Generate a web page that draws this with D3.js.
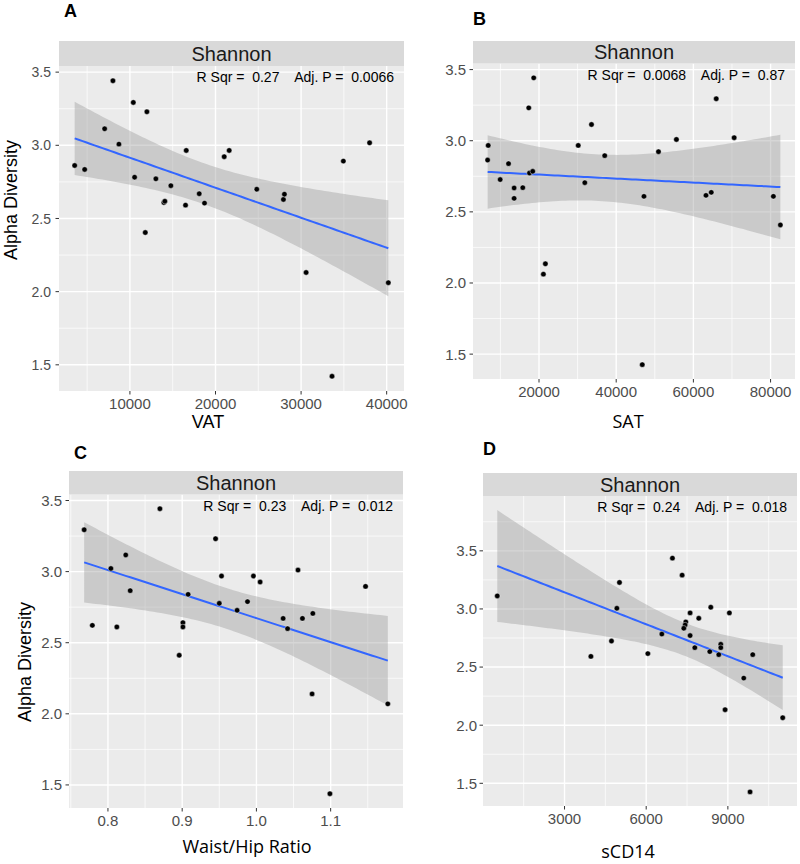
<!DOCTYPE html>
<html>
<head>
<meta charset="utf-8">
<script src="https://cdn.jsdelivr.net/npm/d3@7"></script>
<style>
body { margin:0; background:#fff; }
text { font-family: "Liberation Sans", Arial, sans-serif; }
</style>
</head>
<body>
<svg id="fig" width="800" height="864"></svg>
<script>
//Shannon alpha diversity vs VAT
var vatX = [3546,4713,8016,7047,8716,10397,11984,10548,13034,14785,13968,14085,16500,18717,16582,18099,21017,21600,24821,27937,28053,34939,38008,11797,30587,40193,33615]
var vatY = [2.862,2.835,3.441,3.113,3.008,3.293,3.229,2.782,2.771,2.724,2.609,2.618,2.591,2.605,2.965,2.669,2.922,2.965,2.700,2.630,2.666,2.892,3.017,2.404,2.131,2.061,1.422]

//vs SAT
var satX = [6842,6687,9938,12105,13550,13550,15795,17343,18633,17523,18375,30165,31868,33597,37028,47193,50960,55604,63267,64634,65924,70568,80733,82539,21651,21135,46755]
var satY = [2.967,2.864,2.727,2.839,2.668,2.595,2.670,3.231,3.442,2.773,2.785,2.967,2.705,3.114,2.895,2.609,2.923,3.009,2.616,2.637,3.295,3.021,2.609,2.408,2.135,2.062,1.426]

//vs waist/hip ratio
var whrX = [0.768,0.779,0.804,0.812,0.824,0.830,0.870,0.901,0.901,0.908,0.945,0.953,0.950,0.974,0.988,0.996,1.005,1.036,1.042,1.056,1.062,1.076,1.147,0.896,1.075,1.099,1.177]
var whrY = [3.294,2.622,3.022,2.611,3.117,2.866,3.442,2.641,2.611,2.840,3.231,2.969,2.777,2.728,2.789,2.969,2.927,2.671,2.599,3.011,2.671,2.706,2.896,2.412,2.140,1.438,2.070]

//vs sCD14
var cd14X = [530,5019,4923,4725,6575,6964,7320,7613,7455,7430,7382,7613,7932,8373,9056,7786,8740,3969,6061,8336,8666,8740,9914,9584,8898,11015,9815]
var cd14Y = [3.112,3.228,3.006,2.724,2.784,3.437,3.291,2.966,2.888,2.862,2.834,2.771,2.920,3.015,2.966,2.667,2.696,2.592,2.616,2.633,2.607,2.667,2.607,2.405,2.133,2.064,1.426]

//tick labels
var yTicks = [1.5,2.0,2.5,3.0,3.5]
var vatTicks = [10000,20000,30000,40000]
var satTicks = [20000,40000,60000,80000]
var whrTicks = [0.8,0.9,1.0,1.1]
var cd14Ticks = [3000,6000,9000]

//stats text
var statLabels = [
	"R Sqr =  0.27    Adj. P =  0.0066",
	"R Sqr =  0.0068    Adj. P =  0.87",
	"R Sqr =  0.23    Adj. P =  0.012",
	"R Sqr =  0.24    Adj. P =  0.018"
]

var svg = d3.select('#fig')

//panel boxes (pixels)
var panels = [
	{tag:'A', xs:vatX, ys:vatY, ticks:vatTicks, fmt:'d', title:'VAT', titleFont:'Liberation Sans',
		left:59, right:404, stripTop:41, top:66, bottom:391, tagX:64, tagY:17, titleX:208, titleY:428, ylab:{x:17, y:200}, yFont:14, yGap:8},
	{tag:'B', xs:satX, ys:satY, ticks:satTicks, fmt:'d', title:'SAT', titleFont:'Open Sans',
		left:473, right:795, stripTop:41, top:63.5, bottom:379, tagX:473, tagY:25, titleX:628, titleY:428, ylab:null, yFont:15, yGap:7},
	{tag:'C', xs:whrX, ys:whrY, ticks:whrTicks, fmt:'.1f', title:'Waist/Hip Ratio', titleFont:'Open Sans',
		left:69, right:403, stripTop:471, top:494.5, bottom:808, tagX:74, tagY:459, titleX:247, titleY:853, ylab:{x:31, y:662}, yFont:15, yGap:7},
	{tag:'D', xs:cd14X, ys:cd14Y, ticks:cd14Ticks, fmt:'d', title:'sCD14', titleFont:'Open Sans',
		left:483, right:797, stripTop:473, top:496, bottom:806, tagX:483, tagY:455, titleX:628, titleY:858, ylab:null, yFont:15, yGap:6}
]

//simple lm fit with 95% band (same as geom_smooth(method='lm'))
function linFit(xs, ys) {
	var n = xs.length
	var mx = d3.mean(xs), my = d3.mean(ys)
	var sxx = d3.sum(xs, function(x){ return (x-mx)*(x-mx) })
	var sxy = d3.sum(xs, function(x,i){ return (x-mx)*(ys[i]-my) })
	var b = sxy/sxx, a = my - b*mx
	var sse = d3.sum(xs, function(x,i){ var r = ys[i]-(a+b*x); return r*r })
	var s = Math.sqrt(sse/(n-2))
	var t = 2.0595 //qt(0.975, 25)
	var ext = d3.extent(xs)
	return d3.range(80).map(function(i){
		var x = ext[0] + (ext[1]-ext[0])*i/79
		var fit = a + b*x
		var se = s*Math.sqrt(1/n + (x-mx)*(x-mx)/sxx)
		return {x:x, y:fit, lo:fit-t*se, hi:fit+t*se}
	})
}

//ggplot style 5% padding
function pad(ext) {
	var d = (ext[1]-ext[0])*0.05
	return [ext[0]-d, ext[1]+d]
}

function minorTicks(major, dom) {
	var step = major[1]-major[0]
	var out = []
	for (var v = major[0]-step*1.5; v <= major[major.length-1]+step*1.5; v += step) {
		if (v >= dom[0] && v <= dom[1]) out.push(v)
	}
	return out
}

panels.forEach(function(p, k) {
	var band = linFit(p.xs, p.ys)
	var x = d3.scaleLinear().domain(pad(d3.extent(p.xs))).range([p.left, p.right])
	var yExt = d3.extent(p.ys.concat(band.map(function(d){return d.lo}), band.map(function(d){return d.hi})))
	var y = d3.scaleLinear().domain(pad(yExt)).range([p.bottom, p.top])

	var g = svg.append('g')

	//panel background
	g.append('rect')
		.attr('x',p.left).attr('y',p.top)
		.attr('width',p.right-p.left).attr('height',p.bottom-p.top)
		.attr('fill','#EBEBEB')

	//minor grid
	var yMinor = minorTicks(yTicks, y.domain())
	var xMinor = minorTicks(p.ticks, x.domain())
	g.selectAll('.hmin').data(yMinor).enter().append('line')
		.attr('x1',p.left).attr('x2',p.right)
		.attr('y1',function(d){return y(d)}).attr('y2',function(d){return y(d)})
		.attr('stroke','#fff').attr('stroke-width',0.7)
	g.selectAll('.vmin').data(xMinor).enter().append('line')
		.attr('y1',p.top).attr('y2',p.bottom)
		.attr('x1',function(d){return x(d)}).attr('x2',function(d){return x(d)})
		.attr('stroke','#fff').attr('stroke-width',0.7)

	//major grid
	g.selectAll('.hmaj').data(yTicks).enter().append('line')
		.attr('x1',p.left).attr('x2',p.right)
		.attr('y1',function(d){return y(d)}).attr('y2',function(d){return y(d)})
		.attr('stroke','#fff').attr('stroke-width',1.4)
	g.selectAll('.vmaj').data(p.ticks).enter().append('line')
		.attr('y1',p.top).attr('y2',p.bottom)
		.attr('x1',function(d){return x(d)}).attr('x2',function(d){return x(d)})
		.attr('stroke','#fff').attr('stroke-width',1.4)

	//confidence band + fit
	g.append('path')
		.datum(band)
		.attr('d', d3.area().x(function(d){return x(d.x)}).y0(function(d){return y(d.lo)}).y1(function(d){return y(d.hi)}))
		.attr('fill','#999999').attr('fill-opacity',0.4)
	g.append('path')
		.datum(band)
		.attr('d', d3.line().x(function(d){return x(d.x)}).y(function(d){return y(d.y)}))
		.attr('fill','none').attr('stroke','#3366FF').attr('stroke-width',2)

	//points
	g.selectAll('.pt').data(p.xs).enter().append('circle')
		.attr('cx',function(d){return x(d)})
		.attr('cy',function(d,i){return y(p.ys[i])})
		.attr('r',2.7)
		.attr('fill','#000')
		.attr('stroke','#fff').attr('stroke-width',0.6).attr('stroke-opacity',0.7)

	//strip
	g.append('rect')
		.attr('x',p.left).attr('y',p.stripTop)
		.attr('width',p.right-p.left).attr('height',p.top-p.stripTop)
		.attr('fill','#D9D9D9')
	g.append('text')
		.attr('x',(p.left+p.right)/2).attr('y',(p.stripTop+p.top)/2)
		.attr('dy','0.36em')
		.attr('text-anchor','middle')
		.style('font-size','20px').attr('fill','#1A1A1A')
		.text('Shannon')

	//stats
	g.append('text')
		.attr('x',p.right-10).attr('y',p.top+16)
		.attr('text-anchor','end')
		.style('font-size','14px').style('white-space','pre')
		.attr('fill','#000')
		.text(statLabels[k])

	//axis ticks + labels
	g.selectAll('.yt').data(yTicks).enter().append('line')
		.attr('x1',p.left-3.5).attr('x2',p.left)
		.attr('y1',function(d){return y(d)}).attr('y2',function(d){return y(d)})
		.attr('stroke','#333').attr('stroke-width',1)
	g.selectAll('.yl').data(yTicks).enter().append('text')
		.attr('x',p.left-p.yGap)
		.attr('y',function(d){return y(d)})
		.attr('dy','0.36em')
		.attr('text-anchor','end')
		.style('font-size',p.yFont+'px').attr('fill','#4D4D4D')
		.text(d3.format('.1f'))
	g.selectAll('.xt').data(p.ticks).enter().append('line')
		.attr('y1',p.bottom).attr('y2',p.bottom+3.5)
		.attr('x1',function(d){return x(d)}).attr('x2',function(d){return x(d)})
		.attr('stroke','#333').attr('stroke-width',1)
	g.selectAll('.xl').data(p.ticks).enter().append('text')
		.attr('x',function(d){return x(d)})
		.attr('y',p.bottom+18)
		.attr('text-anchor','middle')
		.style('font-size','15px').attr('fill','#4D4D4D')
		.text(d3.format(p.fmt))

	//axis titles
	g.append('text')
		.attr('x',p.titleX).attr('y',p.titleY)
		.attr('text-anchor','middle')
		.style('font-family',p.titleFont)
		.style('font-size','18px').attr('fill','#000')
		.text(p.title)
	if (p.ylab) {
		g.append('text')
			.attr('transform','translate('+p.ylab.x+','+p.ylab.y+') rotate(-90)')
			.attr('text-anchor','middle')
			.style('font-size','18px').attr('fill','#000')
			.text('Alpha Diversity')
	}

	//panel tag
	g.append('text')
		.attr('x',p.tagX).attr('y',p.tagY)
		.style('font-size','18px').style('font-weight','bold')
		.attr('fill','#000')
		.text(p.tag)
})
</script>
</body>
</html>
